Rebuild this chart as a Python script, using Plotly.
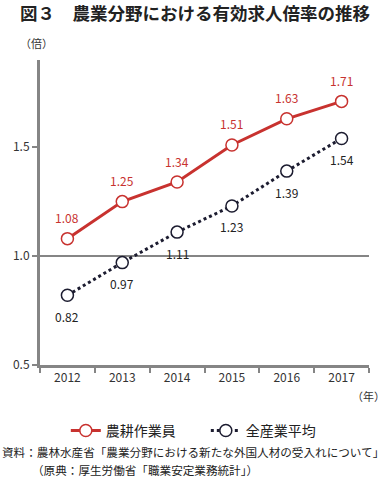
import plotly.graph_objects as go

years = [2012, 2013, 2014, 2015, 2016, 2017]
farm = [1.08, 1.25, 1.34, 1.51, 1.63, 1.71]
allind = [0.82, 0.97, 1.11, 1.23, 1.39, 1.54]
ytick_vals = [0.5, 1.0, 1.5]
ytick_text = ["0.5", "1.0", "1.5"]

RED = "#c8322f"
NAVY = "#1c1c30"
GREY = "#858585"
FONT = "Noto Sans CJK JP"

fig = go.Figure()
fig.add_trace(go.Scatter(
    x=years, y=farm, name="農耕作業員", mode="lines+markers",
    line=dict(color=RED, width=3),
    marker=dict(symbol="circle", size=12, color="white", line=dict(color=RED, width=1.5)),
))
fig.add_trace(go.Scatter(
    x=years, y=allind, name="全産業平均", mode="lines+markers",
    line=dict(color=NAVY, width=3, dash="dot"),
    marker=dict(symbol="circle", size=12, color="white", line=dict(color=NAVY, width=1.5)),
))

for x, v in zip(years, farm):
    fig.add_annotation(x=x, y=v, text=f"{v:.2f}", showarrow=False, yshift=21,
                       font=dict(color=RED, size=12, family=FONT))
for x, v in zip(years, allind):
    fig.add_annotation(x=x, y=v, text=f"{v:.2f}", showarrow=False, yshift=-21,
                       font=dict(color="#222", size=12, family=FONT))

fig.add_shape(type="line", xref="paper", x0=0, x1=1, yref="y", y0=1.0, y1=1.0,
              line=dict(color=GREY, width=2), layer="below")

fig.add_annotation(xref="paper", yref="paper", x=0, y=1.0, xshift=-4, yshift=17, text="（倍）",
                   showarrow=False, xanchor="center", yanchor="middle",
                   font=dict(size=11, color="#333", family=FONT))
fig.add_annotation(xref="paper", yref="paper", x=1.0, y=0, xshift=18, yshift=-31, text="（年）",
                   showarrow=False, xanchor="right", yanchor="middle",
                   font=dict(size=11, color="#333", family=FONT))

fig.add_annotation(xref="paper", yref="paper", x=-0.0669, y=1, yshift=48, xanchor="left", yanchor="middle",
                   text="<b>図３　農業分野における有効求人倍率の推移</b>", showarrow=False,
                   font=dict(size=17.5, color="#222", family=FONT))

fig.add_annotation(xref="paper", yref="paper", x=-0.1216, y=0, yshift=-87, xanchor="left", yanchor="middle",
                   text="資料：農林水産省「農業分野における新たな外国人材の受入れについて」",
                   showarrow=False, font=dict(size=11.6, color="#222", family=FONT))
fig.add_annotation(xref="paper", yref="paper", x=-0.03, y=0, yshift=-105, xanchor="left", yanchor="middle",
                   text="（原典：厚生労働省「職業安定業務統計」）",
                   showarrow=False, font=dict(size=11.6, color="#222", family=FONT))

fig.update_layout(
    width=387, height=477,
    margin=dict(l=40, r=18, t=60, b=112),
    paper_bgcolor="white", plot_bgcolor="white",
    font=dict(family=FONT, color="#333"),
    showlegend=True,
    legend=dict(orientation="h", x=0.504, xanchor="center", y=-0.216, yanchor="middle",
                font=dict(size=14, color="#222", family=FONT),
                itemwidth=30, entrywidth=95, bgcolor="rgba(0,0,0,0)"),
    xaxis=dict(range=[2011.5, 2017.5], tickvals=years, ticktext=[str(y) for y in years],
               showgrid=False, zeroline=False, showline=True, linecolor=GREY, linewidth=3,
               ticks="", tickfont=dict(size=12, color="#333")),
    yaxis=dict(range=[0.5, 1.9], tickvals=ytick_vals, ticktext=ytick_text,
               showgrid=False, zeroline=False, showline=True, linecolor=GREY, linewidth=3,
               ticks="outside", ticklen=5, tickcolor=GREY, tickwidth=2,
               tickfont=dict(size=12, color="#333")),
)

fig.update_xaxes(minor=dict(tickvals=[2011.5 + i for i in range(7)], ticks="outside",
                            ticklen=5, tickcolor=GREY, tickwidth=2))

fig.write_html("out.html", config={"displayModeBar": False},
               post_script="document.body.style.margin='0';")
